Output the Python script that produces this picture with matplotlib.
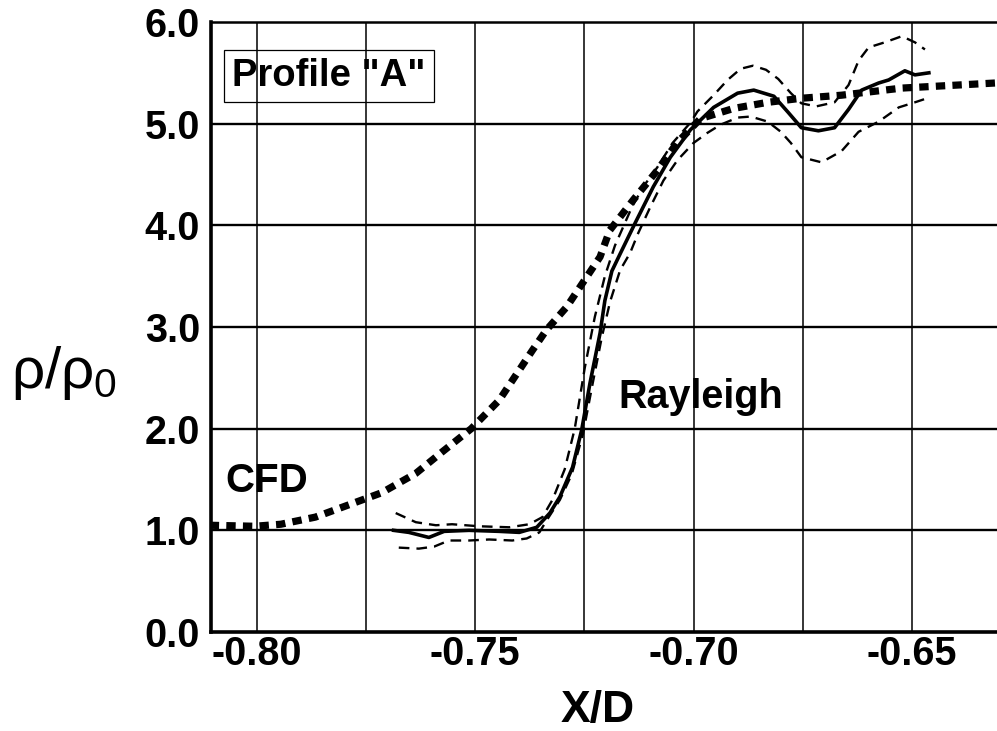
import matplotlib as mpl
mpl.use('Agg')
import matplotlib.pyplot as plt

# CFD prediction (thick dotted)
cfd_x = [-0.8108, -0.8005, -0.7945, -0.7866, -0.7790, -0.7714, -0.7636, -0.7576,
         -0.7509, -0.7445, -0.7369, -0.7337, -0.7290, -0.7214, -0.7192, -0.7138,
         -0.7083, -0.7038, -0.6984, -0.6908, -0.6830, -0.6753, -0.6661, -0.6523, -0.6309]
cfd_y = [1.05, 1.04, 1.06, 1.13, 1.25, 1.37, 1.56, 1.77,
         2.00, 2.28, 2.77, 2.97, 3.20, 3.69, 3.95, 4.25,
         4.54, 4.81, 5.05, 5.15, 5.21, 5.25, 5.28, 5.35, 5.40]

# Rayleigh measurement (solid)
ray_x = [-0.7687, -0.7652, -0.7606, -0.7571, -0.7514, -0.7445, -0.7399, -0.7359,
         -0.7329, -0.7306, -0.7277, -0.7256, -0.7237, -0.7214, -0.7203, -0.7187,
         -0.7168, -0.7134, -0.7092, -0.7053, -0.7007, -0.6954, -0.6899, -0.6862,
         -0.6816, -0.6783, -0.6753, -0.6714, -0.6677, -0.6645, -0.6615, -0.6576,
         -0.6553, -0.6516, -0.6493, -0.6461]
ray_y = [1.00, 0.98, 0.93, 0.99, 1.00, 0.99, 0.98, 1.03,
         1.17, 1.33, 1.62, 1.99, 2.45, 2.94, 3.26, 3.55,
         3.72, 4.02, 4.38, 4.67, 4.94, 5.16, 5.30, 5.33,
         5.27, 5.11, 4.96, 4.93, 4.96, 5.14, 5.33, 5.40,
         5.43, 5.52, 5.48, 5.50]

# upper / lower uncertainty bounds (thin dashed)
hi_x = [-0.7682, -0.7636, -0.7590, -0.7553, -0.7491, -0.7422, -0.7376, -0.7346,
        -0.7323, -0.7295, -0.7272, -0.7249, -0.7226, -0.7203, -0.7180, -0.7141,
        -0.7115, -0.7083, -0.7048, -0.7007, -0.6991, -0.6954, -0.6922, -0.6892,
        -0.6864, -0.6834, -0.6806, -0.6777, -0.6753, -0.6719, -0.6677, -0.6645,
        -0.6622, -0.6599, -0.6562, -0.6523, -0.6493, -0.6470]
hi_y = [1.17, 1.08, 1.05, 1.06, 1.04, 1.03, 1.06, 1.13,
        1.30, 1.60, 2.00, 2.60, 3.10, 3.50, 3.80, 4.18,
        4.38, 4.57, 4.81, 5.01, 5.12, 5.28, 5.43, 5.54,
        5.57, 5.53, 5.44, 5.30, 5.20, 5.17, 5.21, 5.38,
        5.62, 5.75, 5.80, 5.86, 5.80, 5.73]
lo_x = [-0.7675, -0.7629, -0.7594, -0.7560, -0.7514, -0.7468, -0.7415, -0.7382,
        -0.7353, -0.7336, -0.7306, -0.7279, -0.7253, -0.7233, -0.7210, -0.7191,
        -0.7168, -0.7145, -0.7127, -0.7099, -0.7069, -0.7037, -0.7000, -0.6968,
        -0.6938, -0.6899, -0.6869, -0.6830, -0.6800, -0.6777, -0.6753, -0.6707,
        -0.6661, -0.6622, -0.6576, -0.6530, -0.6493, -0.6472]
lo_y = [0.83, 0.82, 0.84, 0.90, 0.90, 0.91, 0.90, 0.92,
        0.98, 1.10, 1.30, 1.55, 1.95, 2.40, 2.90, 3.25,
        3.56, 3.73, 3.92, 4.18, 4.44, 4.64, 4.81, 4.91,
        4.99, 5.06, 5.07, 5.02, 4.92, 4.81, 4.67, 4.62,
        4.73, 4.92, 5.02, 5.16, 5.21, 5.24]

xticks = [-0.80, -0.75, -0.70, -0.65]
xtick_labels = ['-0.80', '-0.75', '-0.70', '-0.65']
xgrid = [-0.80, -0.775, -0.75, -0.725, -0.70, -0.675, -0.65]
yticks = [0, 1, 2, 3, 4, 5, 6]
ytick_labels = ['0.0', '1.0', '2.0', '3.0', '4.0', '5.0', '6.0']

plt.rcParams['font.family'] = ['Liberation Sans', 'DejaVu Sans']
plt.rcParams['mathtext.fontset'] = 'custom'
plt.rcParams['mathtext.rm'] = 'Liberation Sans'
plt.rcParams['mathtext.it'] = 'Liberation Sans'

fig = plt.figure(figsize=(9.97, 7.31), dpi=100)
ax = fig.add_axes([211 / 997, 1 - 632 / 731, 1 - 211 / 997, 610 / 731])

ax.set_xlim(-0.8105, -0.6305)
ax.set_ylim(0, 6)

for gx in xgrid:
    ax.axvline(gx, color='black', lw=1.1, zorder=1)
for gy in yticks[1:-1]:
    ax.axhline(gy, color='black', lw=1.7, zorder=1)

ax.plot(cfd_x, cfd_y, color='black', lw=5.2, linestyle=(0, (1.3, 1.0)),
        dash_capstyle='butt', zorder=3)
ax.plot(ray_x, ray_y, color='black', lw=2.6, solid_joinstyle='round', zorder=4)
ax.plot(hi_x, hi_y, color='black', lw=1.7, linestyle=(0, (4.5, 3.0)), zorder=4)
ax.plot(lo_x, lo_y, color='black', lw=1.7, linestyle=(0, (4.5, 3.0)), zorder=4)

ax.set_xticks(xticks)
ax.set_xticklabels(xtick_labels, fontsize=28.5, fontweight='bold')
ax.set_yticks(yticks)
ax.set_yticklabels(ytick_labels, fontsize=28.5, fontweight='bold')
ax.tick_params(axis='both', length=0)
ax.tick_params(axis='y', pad=8)
ax.tick_params(axis='x', pad=2)

for s in ['left', 'bottom']:
    ax.spines[s].set_linewidth(2.6)
ax.spines['top'].set_linewidth(1.8)
ax.spines['right'].set_visible(False)

ax.text(-0.8071, 1.38, 'CFD', fontsize=29, fontweight='bold', ha='left', va='baseline', zorder=5)
ax.text(-0.7173, 2.20, 'Rayleigh', fontsize=28.5, fontweight='bold', ha='left', va='baseline', zorder=5)
ax.text(-0.8057, 5.37, 'Profile "A"', fontsize=27.5, fontweight='bold', ha='left', va='baseline',
        zorder=5, bbox=dict(boxstyle='square,pad=0.22', facecolor='none', edgecolor='black', lw=0.9))

fig.text(598 / 997, 1 - 722 / 731, 'X/D', fontsize=32, fontweight='bold', ha='center', va='baseline')
fig.text(64 / 997, 1 - 373 / 731, r'$\rho/\rho_0$', fontsize=42, ha='center', va='center')

fig.savefig('out.png', dpi=100)
